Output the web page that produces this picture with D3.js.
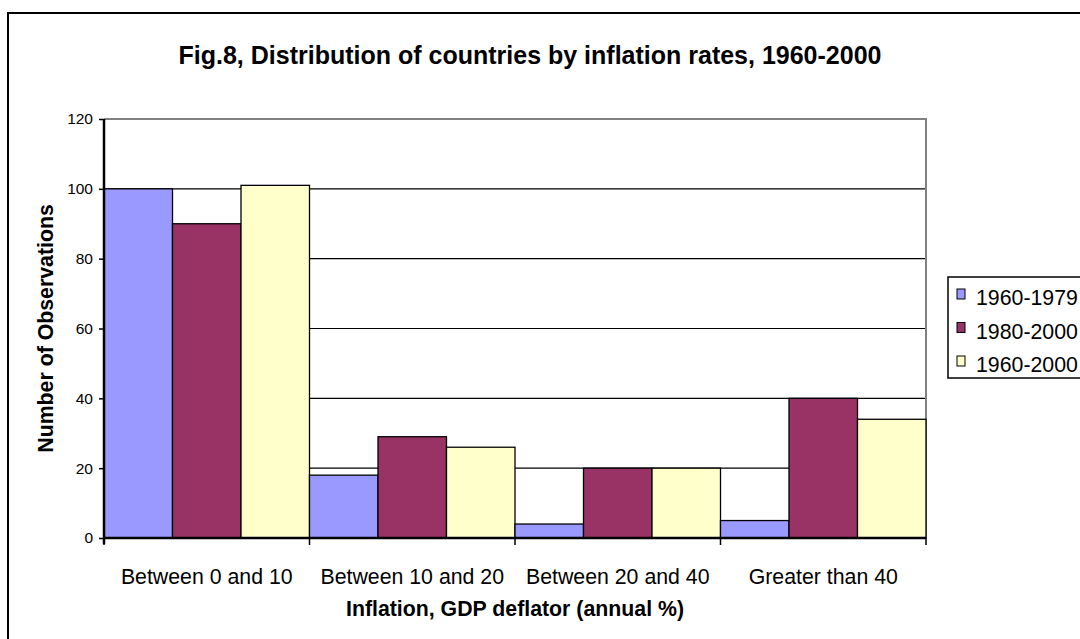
<!DOCTYPE html>
<html>
<head>
<meta charset="utf-8">
<script src="https://cdn.jsdelivr.net/npm/d3@7"></script>
<style>
  body { margin: 0; background: #fff; }
  svg { display: block; font-family: "Liberation Sans", Arial, sans-serif; }
</style>
</head>
<body>
<svg id="chart"></svg>
<script>
// chart data
const categories = ['Between 0 and 10', 'Between 10 and 20', 'Between 20 and 40', 'Greater than 40'];
const seriesNames = ['1960-1979', '1980-2000', '1960-2000'];
const s1960_1979 = [100, 18, 4, 5];
const s1980_2000 = [90, 29, 20, 40];
const s1960_2000 = [101, 26, 20, 34];
const yTicks = [0, 20, 40, 60, 80, 100, 120];
const colors = ['#9999FF', '#993366', '#FFFFCC'];

const width = 1080;
const height = 639;
const margin = { top: 119, right: 154, bottom: 101, left: 104 }; // plot area 104..926 x 119..538

const svg = d3.select('#chart')
  .attr('width', width)
  .attr('height', height);

// outer chart frame (runs off the right/bottom edge)
svg.append('rect')
  .attr('x', 8)
  .attr('y', 13)
  .attr('width', width + 20)
  .attr('height', height + 20)
  .attr('fill', 'none')
  .attr('stroke', '#000')
  .attr('stroke-width', 2);

const x0 = d3.scaleBand()
  .domain(categories)
  .range([margin.left, width - margin.right])
  .paddingInner(0)
  .paddingOuter(0);

const x1 = d3.scaleBand()
  .domain(seriesNames)
  .range([0, x0.bandwidth()])
  .padding(0);

const y = d3.scaleLinear()
  .domain([0, 120])
  .range([height - margin.bottom, margin.top]);

// gridlines
svg.append('g')
  .selectAll('line')
  .data(yTicks.filter(d => d > 0 && d < 120))
  .join('line')
  .attr('x1', margin.left)
  .attr('x2', width - margin.right)
  .attr('y1', d => y(d))
  .attr('y2', d => y(d))
  .attr('stroke', '#000')
  .attr('stroke-width', 1.2);

// plot border top/right (gray)
svg.append('path')
  .attr('d', `M${margin.left},${y(120)}H${width - margin.right}V${y(0)}`)
  .attr('fill', 'none')
  .attr('stroke', '#808080')
  .attr('stroke-width', 2);

// bars
const rows = categories.map((c, i) => ({
  cat: c,
  vals: [s1960_1979[i], s1980_2000[i], s1960_2000[i]]
}));

const groups = svg.append('g')
  .selectAll('g')
  .data(rows)
  .join('g')
  .attr('transform', d => `translate(${x0(d.cat)},0)`);

groups.selectAll('rect')
  .data(d => d.vals.map((v, j) => ({ key: seriesNames[j], v, j })))
  .join('rect')
  .attr('x', d => x1(d.key))
  .attr('y', d => y(d.v))
  .attr('width', x1.bandwidth())
  .attr('height', d => y(0) - y(d.v))
  .attr('fill', d => colors[d.j])
  .attr('stroke', '#000')
  .attr('stroke-width', 1.3);

// y axis
const yAxis = svg.append('g')
  .attr('transform', `translate(${margin.left},0)`)
  .call(d3.axisLeft(y).tickValues(yTicks).tickSize(5).tickPadding(6));
yAxis.select('.domain').attr('stroke-width', 2.5).attr('d', `M0,${y(120)}V${y(0) + 6}`);
yAxis.selectAll('.tick line').attr('stroke-width', 1.5);
yAxis.selectAll('text').attr('font-size', '15.5px').attr('fill', '#000')
  .style('font-family', '"Liberation Sans", Arial, sans-serif');

// x axis
const xAxis = svg.append('g')
  .attr('transform', `translate(0,${y(0)})`)
  .call(d3.axisBottom(x0).tickSize(0).tickPadding(31));
xAxis.select('.domain').attr('stroke-width', 2.5).attr('d', `M${margin.left},0H${width - margin.right}`);
xAxis.selectAll('text').attr('font-size', '21.3px').attr('fill', '#000')
  .style('font-family', '"Liberation Sans", Arial, sans-serif');

// category separator ticks
xAxis.selectAll('.sep')
  .data(categories.concat(['end']))
  .join('line')
  .attr('class', 'sep')
  .attr('x1', (d, i) => margin.left + i * x0.step())
  .attr('x2', (d, i) => margin.left + i * x0.step())
  .attr('y1', 0)
  .attr('y2', 7)
  .attr('stroke', '#000')
  .attr('stroke-width', 1.5);

// title
svg.append('text')
  .attr('x', 530)
  .attr('y', 64)
  .attr('text-anchor', 'middle')
  .attr('font-size', '25px')
  .attr('font-weight', 'bold')
  .text('Fig.8, Distribution of countries by inflation rates, 1960-2000');

// axis titles
svg.append('text')
  .attr('transform', `translate(53,${(y(0) + y(120)) / 2 }) rotate(-90)`)
  .attr('text-anchor', 'middle')
  .attr('font-size', '21.3px')
  .attr('font-weight', 'bold')
  .text('Number of Observations');

svg.append('text')
  .attr('x', (margin.left + width - margin.right) / 2)
  .attr('y', 616)
  .attr('text-anchor', 'middle')
  .attr('font-size', '21.3px')
  .attr('font-weight', 'bold')
  .text('Inflation, GDP deflator (annual %)');

// legend
const legend = svg.append('g');
legend.append('rect')
  .attr('x', 948)
  .attr('y', 277)
  .attr('width', 160)
  .attr('height', 101)
  .attr('fill', '#fff')
  .attr('stroke', '#000')
  .attr('stroke-width', 1.5);

const items = legend.selectAll('g.item')
  .data(seriesNames)
  .join('g')
  .attr('class', 'item')
  .attr('transform', (d, i) => `translate(957,${289 + i * 33.5})`);

items.append('rect')
  .attr('width', 8)
  .attr('height', 10)
  .attr('fill', (d, i) => colors[i])
  .attr('stroke', '#000')
  .attr('stroke-width', 1);

items.append('text')
  .attr('x', 19)
  .attr('y', 16)
  .attr('font-size', '21.3px')
  .text(d => d);
</script>
</body>
</html>
